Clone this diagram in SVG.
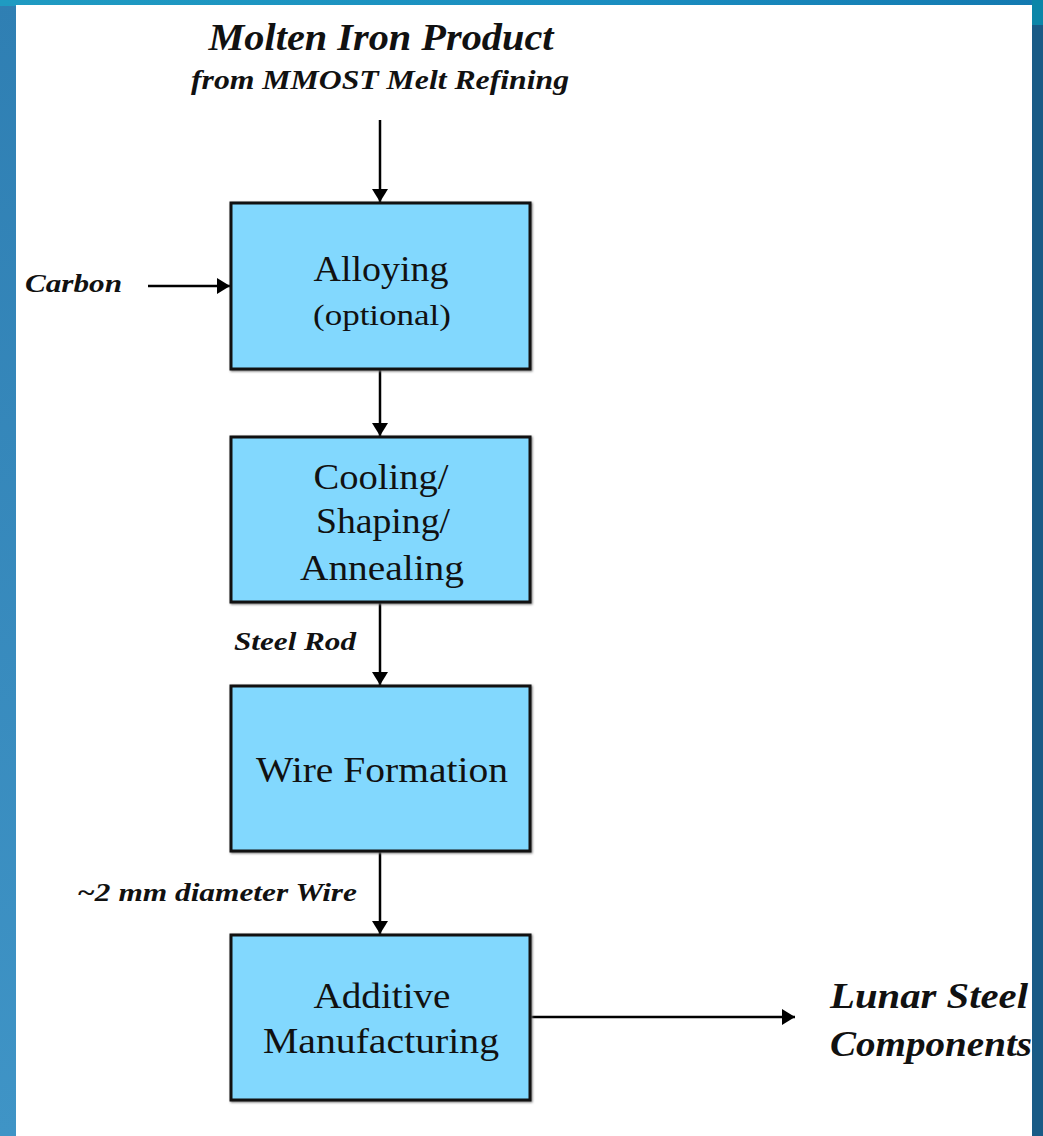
<svg xmlns="http://www.w3.org/2000/svg" width="1043" height="1136" viewBox="0 0 1043 1136">
  <defs>
    <linearGradient id="bgLeft" x1="0" y1="0" x2="0" y2="1">
      <stop offset="0" stop-color="#2f7fb3"/>
      <stop offset="1" stop-color="#3f94c6"/>
    </linearGradient>
    <linearGradient id="bgTop" x1="0" y1="0" x2="1" y2="0">
      <stop offset="0" stop-color="#1f9bc2"/>
      <stop offset="0.6" stop-color="#1a8dc0"/>
      <stop offset="1" stop-color="#1379b0"/>
    </linearGradient>
    <filter id="shadow" x="-5%" y="-5%" width="110%" height="110%">
      <feGaussianBlur stdDeviation="1"/>
    </filter>
    <marker id="arrow" viewBox="0 0 13 16" refX="13" refY="8" markerWidth="13" markerHeight="16" markerUnits="userSpaceOnUse" orient="auto">
      <path d="M0,0 L13,8 L0,16 Z" fill="#000"/>
    </marker>
  </defs>
  <style>
    .box { fill: #82d8fe; stroke: #111; stroke-width: 3; }
    .boxshadow { fill: none; stroke: #777; stroke-width: 3; filter: url(#shadow); }
    .label { font-family: "Liberation Serif", "Times New Roman", serif; font-size: 36px; fill: #111; text-anchor: middle; }
    .small { font-size: 29px; }
    .note { font-family: "Liberation Serif", "Times New Roman", serif; font-weight: bold; font-style: italic; fill: #111; }
    .conn { stroke: #000; stroke-width: 2.5; fill: none; marker-end: url(#arrow); }
  </style>

  <!-- slide background -->
  <rect x="0" y="0" width="1043" height="1136" fill="url(#bgLeft)"/>
  <rect x="0" y="0" width="1043" height="6" fill="url(#bgTop)"/>
  <rect x="1032" y="0" width="11" height="1136" fill="#195b86"/>
  <rect x="1032" y="0" width="11" height="25" fill="#0b86a8"/>
  <rect x="16" y="5" width="1016" height="1131" fill="#ffffff"/>

  <!-- header -->
  <g id="source">
    <text class="note" x="381" y="50" font-size="37" text-anchor="middle" textLength="345" lengthAdjust="spacingAndGlyphs">Molten Iron Product</text>
    <text class="note" x="380" y="89" font-size="27" text-anchor="middle" textLength="378" lengthAdjust="spacingAndGlyphs">from MMOST Melt Refining</text>
  </g>

  <!-- connectors -->
  <g id="connectors">
    <line class="conn" x1="380" y1="120" x2="380" y2="202"/>
    <line class="conn" x1="148" y1="286" x2="230" y2="286"/>
    <line class="conn" x1="380" y1="370" x2="380" y2="436"/>
    <line class="conn" x1="380" y1="602" x2="380" y2="685"/>
    <line class="conn" x1="380" y1="851" x2="380" y2="934"/>
    <line class="conn" x1="531" y1="1017" x2="795" y2="1017"/>
  </g>

  <!-- process steps -->
  <g id="alloying">
    <rect class="boxshadow" x="232" y="204" width="299" height="166"/>
    <rect class="box" x="231" y="203" width="299" height="166"/>
    <text class="label" x="381" y="281" textLength="135" lengthAdjust="spacingAndGlyphs">Alloying</text>
    <text class="label small" x="382" y="325" textLength="138" lengthAdjust="spacingAndGlyphs">(optional)</text>
  </g>

  <g id="cooling">
    <rect class="boxshadow" x="232" y="438" width="299" height="165"/>
    <rect class="box" x="231" y="437" width="299" height="165"/>
    <text class="label" x="381" y="489" textLength="135" lengthAdjust="spacingAndGlyphs">Cooling/</text>
    <text class="label" x="383" y="533" textLength="134" lengthAdjust="spacingAndGlyphs">Shaping/</text>
    <text class="label" x="382" y="580" textLength="164" lengthAdjust="spacingAndGlyphs">Annealing</text>
  </g>

  <g id="wire-formation">
    <rect class="boxshadow" x="232" y="687" width="299" height="165"/>
    <rect class="box" x="231" y="686" width="299" height="165"/>
    <text class="label" x="382" y="782" textLength="252" lengthAdjust="spacingAndGlyphs">Wire Formation</text>
  </g>

  <g id="additive-manufacturing">
    <rect class="boxshadow" x="232" y="936" width="299" height="165"/>
    <rect class="box" x="231" y="935" width="299" height="165"/>
    <text class="label" x="382" y="1008" textLength="137" lengthAdjust="spacingAndGlyphs">Additive</text>
    <text class="label" x="381" y="1053" textLength="236" lengthAdjust="spacingAndGlyphs">Manufacturing</text>
  </g>

  <!-- inputs, outputs and stream labels -->
  <g id="carbon">
    <text class="note" x="25" y="292" font-size="25" textLength="97" lengthAdjust="spacingAndGlyphs">Carbon</text>
  </g>
  <g id="steel-rod">
    <text class="note" x="234" y="650" font-size="25" textLength="122" lengthAdjust="spacingAndGlyphs">Steel Rod</text>
  </g>
  <g id="wire">
    <text class="note" x="77" y="901" font-size="25" textLength="280" lengthAdjust="spacingAndGlyphs">~2 mm diameter Wire</text>
  </g>
  <g id="components">
    <text class="note" x="830" y="1008" font-size="35" textLength="198" lengthAdjust="spacingAndGlyphs">Lunar Steel</text>
    <text class="note" x="830" y="1056" font-size="35" textLength="202" lengthAdjust="spacingAndGlyphs">Components</text>
  </g>
</svg>
